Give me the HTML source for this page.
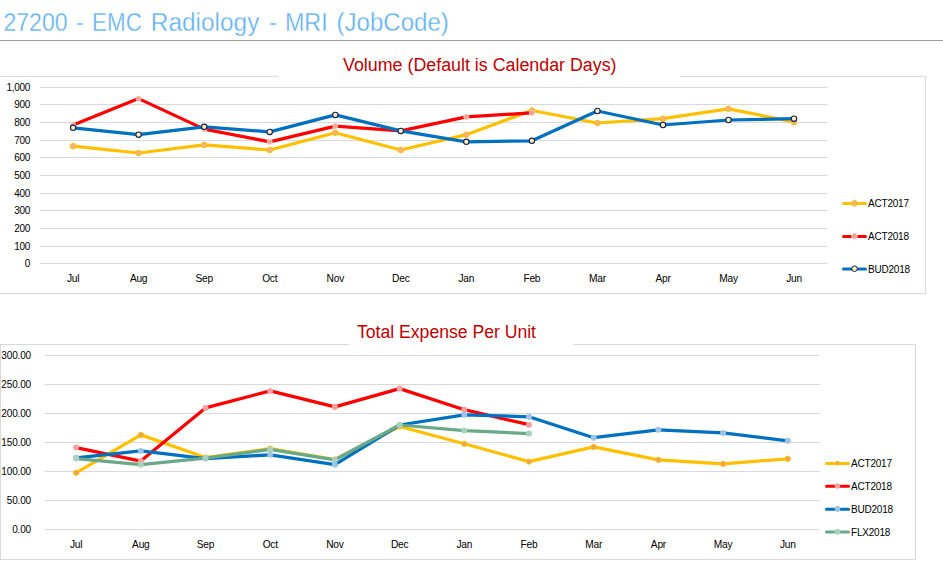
<!DOCTYPE html>
<html><head><meta charset="utf-8"><style>
html,body{margin:0;padding:0;background:#fff;}
body{width:943px;height:565px;overflow:hidden;position:relative;font-family:"Liberation Sans", sans-serif;}
#title{position:absolute;left:3px;top:5px;font-size:24.3px;color:#5aaaf2;white-space:nowrap;line-height:36px;}
svg{position:absolute;left:0;top:0;}
</style></head><body>
<svg width="943" height="565" viewBox="0 0 943 565" font-family='"Liberation Sans", sans-serif'>
<text x="3.39" y="31" font-size="25" fill="#5cb0f8" stroke="#fff" stroke-width="0.35" textLength="64.22" lengthAdjust="spacingAndGlyphs">27200</text>
<text x="75.98" y="31" font-size="25" fill="#5cb0f8" stroke="#fff" stroke-width="0.35" textLength="7.61" lengthAdjust="spacingAndGlyphs">-</text>
<text x="92.10" y="31" font-size="25" fill="#5cb0f8" stroke="#fff" stroke-width="0.35" textLength="49.72" lengthAdjust="spacingAndGlyphs">EMC</text>
<text x="150.76" y="31" font-size="25" fill="#5cb0f8" stroke="#fff" stroke-width="0.35" textLength="108.63" lengthAdjust="spacingAndGlyphs">Radiology</text>
<text x="269.13" y="31" font-size="25" fill="#5cb0f8" stroke="#fff" stroke-width="0.35" textLength="8.40" lengthAdjust="spacingAndGlyphs">-</text>
<text x="284.91" y="31" font-size="25" fill="#5cb0f8" stroke="#fff" stroke-width="0.35" textLength="42.74" lengthAdjust="spacingAndGlyphs">MRI</text>
<text x="336.56" y="31" font-size="25" fill="#5cb0f8" stroke="#fff" stroke-width="0.35" textLength="112.26" lengthAdjust="spacingAndGlyphs">(JobCode)</text>
<rect x="0" y="40" width="943" height="1" fill="#9f9f9f"/>
<!-- chart1 box -->
<rect x="0" y="76" width="925" height="1" fill="#d9d9d9"/>
<rect x="0" y="293" width="926" height="1" fill="#d9d9d9"/>
<rect x="925" y="76" width="1" height="218" fill="#d9d9d9"/>
<rect x="278" y="60" width="402" height="30" fill="#fff"/>
<text x="479.8" y="71" text-anchor="middle" font-size="17.6" fill="#c00000" textLength="273.5" lengthAdjust="spacingAndGlyphs">Volume (Default is Calendar Days)</text>
<rect x="40" y="263" width="787.5" height="1" fill="#d9d9d9"/>
<text x="30" y="266.9" text-anchor="end" font-size="10" letter-spacing="-0.3" fill="#000">0</text>
<rect x="40" y="246" width="787.5" height="1" fill="#d9d9d9"/>
<text x="30" y="249.9" text-anchor="end" font-size="10" letter-spacing="-0.3" fill="#000">100</text>
<rect x="40" y="228" width="787.5" height="1" fill="#d9d9d9"/>
<text x="30" y="231.9" text-anchor="end" font-size="10" letter-spacing="-0.3" fill="#000">200</text>
<rect x="40" y="210" width="787.5" height="1" fill="#d9d9d9"/>
<text x="30" y="213.9" text-anchor="end" font-size="10" letter-spacing="-0.3" fill="#000">300</text>
<rect x="40" y="193" width="787.5" height="1" fill="#d9d9d9"/>
<text x="30" y="196.9" text-anchor="end" font-size="10" letter-spacing="-0.3" fill="#000">400</text>
<rect x="40" y="175" width="787.5" height="1" fill="#d9d9d9"/>
<text x="30" y="178.9" text-anchor="end" font-size="10" letter-spacing="-0.3" fill="#000">500</text>
<rect x="40" y="157" width="787.5" height="1" fill="#d9d9d9"/>
<text x="30" y="160.9" text-anchor="end" font-size="10" letter-spacing="-0.3" fill="#000">600</text>
<rect x="40" y="140" width="787.5" height="1" fill="#d9d9d9"/>
<text x="30" y="143.9" text-anchor="end" font-size="10" letter-spacing="-0.3" fill="#000">700</text>
<rect x="40" y="122" width="787.5" height="1" fill="#d9d9d9"/>
<text x="30" y="125.9" text-anchor="end" font-size="10" letter-spacing="-0.3" fill="#000">800</text>
<rect x="40" y="104" width="787.5" height="1" fill="#d9d9d9"/>
<text x="30" y="107.9" text-anchor="end" font-size="10" letter-spacing="-0.3" fill="#000">900</text>
<rect x="40" y="87" width="787.5" height="1" fill="#d9d9d9"/>
<text x="30" y="90.9" text-anchor="end" font-size="10" letter-spacing="-0.3" fill="#000">1,000</text>
<text x="73.1" y="282" text-anchor="middle" font-size="10.2" letter-spacing="-0.25" fill="#000">Jul</text>
<text x="138.6" y="282" text-anchor="middle" font-size="10.2" letter-spacing="-0.25" fill="#000">Aug</text>
<text x="204.2" y="282" text-anchor="middle" font-size="10.2" letter-spacing="-0.25" fill="#000">Sep</text>
<text x="269.7" y="282" text-anchor="middle" font-size="10.2" letter-spacing="-0.25" fill="#000">Oct</text>
<text x="335.3" y="282" text-anchor="middle" font-size="10.2" letter-spacing="-0.25" fill="#000">Nov</text>
<text x="400.8" y="282" text-anchor="middle" font-size="10.2" letter-spacing="-0.25" fill="#000">Dec</text>
<text x="466.3" y="282" text-anchor="middle" font-size="10.2" letter-spacing="-0.25" fill="#000">Jan</text>
<text x="531.9" y="282" text-anchor="middle" font-size="10.2" letter-spacing="-0.25" fill="#000">Feb</text>
<text x="597.4" y="282" text-anchor="middle" font-size="10.2" letter-spacing="-0.25" fill="#000">Mar</text>
<text x="663.0" y="282" text-anchor="middle" font-size="10.2" letter-spacing="-0.25" fill="#000">Apr</text>
<text x="728.5" y="282" text-anchor="middle" font-size="10.2" letter-spacing="-0.25" fill="#000">May</text>
<text x="794.0" y="282" text-anchor="middle" font-size="10.2" letter-spacing="-0.25" fill="#000">Jun</text>
<polyline points="73.1,146.2 138.6,153 204.2,144.9 269.7,150 335.3,132.7 400.8,150 466.3,134.7 531.9,110.5 597.4,123 663.0,118.7 728.5,108.8 794.0,122" fill="none" stroke="#ffc000" stroke-width="3.25" stroke-linejoin="round" stroke-linecap="round"/><circle cx="73.1" cy="146.2" r="2.8" fill="#f4b183" stroke="#ffc000" stroke-width="1"/><circle cx="138.6" cy="153" r="2.8" fill="#f4b183" stroke="#ffc000" stroke-width="1"/><circle cx="204.2" cy="144.9" r="2.8" fill="#f4b183" stroke="#ffc000" stroke-width="1"/><circle cx="269.7" cy="150" r="2.8" fill="#f4b183" stroke="#ffc000" stroke-width="1"/><circle cx="335.3" cy="132.7" r="2.8" fill="#f4b183" stroke="#ffc000" stroke-width="1"/><circle cx="400.8" cy="150" r="2.8" fill="#f4b183" stroke="#ffc000" stroke-width="1"/><circle cx="466.3" cy="134.7" r="2.8" fill="#f4b183" stroke="#ffc000" stroke-width="1"/><circle cx="531.9" cy="110.5" r="2.8" fill="#f4b183" stroke="#ffc000" stroke-width="1"/><circle cx="597.4" cy="123" r="2.8" fill="#f4b183" stroke="#ffc000" stroke-width="1"/><circle cx="663.0" cy="118.7" r="2.8" fill="#f4b183" stroke="#ffc000" stroke-width="1"/><circle cx="728.5" cy="108.8" r="2.8" fill="#f4b183" stroke="#ffc000" stroke-width="1"/><circle cx="794.0" cy="122" r="2.8" fill="#f4b183" stroke="#ffc000" stroke-width="1"/>
<polyline points="73.1,125 138.6,98.6 204.2,129.1 269.7,141.8 335.3,126.1 400.8,130.9 466.3,116.9 531.9,112.8" fill="none" stroke="#ff0000" stroke-width="3.25" stroke-linejoin="round" stroke-linecap="round"/><circle cx="73.1" cy="125" r="2.6" fill="#f4a0a0" stroke="#f8cbad" stroke-width="0.8"/><circle cx="138.6" cy="98.6" r="2.6" fill="#f4a0a0" stroke="#f8cbad" stroke-width="0.8"/><circle cx="204.2" cy="129.1" r="2.6" fill="#f4a0a0" stroke="#f8cbad" stroke-width="0.8"/><circle cx="269.7" cy="141.8" r="2.6" fill="#f4a0a0" stroke="#f8cbad" stroke-width="0.8"/><circle cx="335.3" cy="126.1" r="2.6" fill="#f4a0a0" stroke="#f8cbad" stroke-width="0.8"/><circle cx="400.8" cy="130.9" r="2.6" fill="#f4a0a0" stroke="#f8cbad" stroke-width="0.8"/><circle cx="466.3" cy="116.9" r="2.6" fill="#f4a0a0" stroke="#f8cbad" stroke-width="0.8"/><circle cx="531.9" cy="112.8" r="2.6" fill="#f4a0a0" stroke="#f8cbad" stroke-width="0.8"/>
<polyline points="73.1,127.8 138.6,134.7 204.2,126.8 269.7,131.9 335.3,114.9 400.8,130.9 466.3,141.8 531.9,140.8 597.4,111 663.0,125 728.5,120 794.0,118.7" fill="none" stroke="#0070c0" stroke-width="3.25" stroke-linejoin="round" stroke-linecap="round"/><circle cx="73.1" cy="127.8" r="2.7" fill="#fff2a8" stroke="#0b1f63" stroke-width="1.1"/><circle cx="138.6" cy="134.7" r="2.7" fill="#fff2a8" stroke="#0b1f63" stroke-width="1.1"/><circle cx="204.2" cy="126.8" r="2.7" fill="#fff2a8" stroke="#0b1f63" stroke-width="1.1"/><circle cx="269.7" cy="131.9" r="2.7" fill="#fff2a8" stroke="#0b1f63" stroke-width="1.1"/><circle cx="335.3" cy="114.9" r="2.7" fill="#fff2a8" stroke="#0b1f63" stroke-width="1.1"/><circle cx="400.8" cy="130.9" r="2.7" fill="#fff2a8" stroke="#0b1f63" stroke-width="1.1"/><circle cx="466.3" cy="141.8" r="2.7" fill="#fff2a8" stroke="#0b1f63" stroke-width="1.1"/><circle cx="531.9" cy="140.8" r="2.7" fill="#fff2a8" stroke="#0b1f63" stroke-width="1.1"/><circle cx="597.4" cy="111" r="2.7" fill="#fff2a8" stroke="#0b1f63" stroke-width="1.1"/><circle cx="663.0" cy="125" r="2.7" fill="#fff2a8" stroke="#0b1f63" stroke-width="1.1"/><circle cx="728.5" cy="120" r="2.7" fill="#fff2a8" stroke="#0b1f63" stroke-width="1.1"/><circle cx="794.0" cy="118.7" r="2.7" fill="#fff2a8" stroke="#0b1f63" stroke-width="1.1"/>
<line x1="843.5" y1="203.5" x2="865.5" y2="203.5" stroke="#ffc000" stroke-width="3" stroke-linecap="round"/>
<circle cx="854.5" cy="203.2" r="2.8" fill="#f4b183" stroke="#ffc000" stroke-width="1"/>
<text x="868" y="207.1" font-size="10" letter-spacing="-0.2" fill="#000">ACT2017</text>
<line x1="843.5" y1="236.5" x2="865.5" y2="236.5" stroke="#ff0000" stroke-width="3" stroke-linecap="round"/>
<circle cx="854.5" cy="236.2" r="2.8" fill="#f4a0a0" stroke="#f8cbad" stroke-width="1"/>
<text x="868" y="240.1" font-size="10" letter-spacing="-0.2" fill="#000">ACT2018</text>
<line x1="843.5" y1="269" x2="865.5" y2="269" stroke="#0070c0" stroke-width="3" stroke-linecap="round"/>
<circle cx="854.5" cy="268.7" r="2.8" fill="#fff2a8" stroke="#0b1f63" stroke-width="1"/>
<text x="868" y="272.6" font-size="10" letter-spacing="-0.2" fill="#000">BUD2018</text>
<!-- chart2 box -->
<rect x="0" y="344" width="916" height="1" fill="#d9d9d9"/>
<rect x="0" y="559" width="916" height="1" fill="#d9d9d9"/>
<rect x="0" y="344" width="1" height="216" fill="#d9d9d9"/>
<rect x="915" y="344" width="1" height="216" fill="#d9d9d9"/>
<rect x="349" y="325" width="224" height="20" fill="#fff"/>
<text x="446.5" y="338" text-anchor="middle" font-size="17.6" fill="#c00000">Total Expense Per Unit</text>
<rect x="44.5" y="529" width="775.5" height="1" fill="#d9d9d9"/>
<text x="31" y="533.1" text-anchor="end" font-size="10" letter-spacing="-0.15" fill="#000">0.00</text>
<rect x="44.5" y="500" width="775.5" height="1" fill="#d9d9d9"/>
<text x="31" y="504.1" text-anchor="end" font-size="10" letter-spacing="-0.15" fill="#000">50.00</text>
<rect x="44.5" y="471" width="775.5" height="1" fill="#d9d9d9"/>
<text x="31" y="475.1" text-anchor="end" font-size="10" letter-spacing="-0.15" fill="#000">100.00</text>
<rect x="44.5" y="442" width="775.5" height="1" fill="#d9d9d9"/>
<text x="31" y="446.1" text-anchor="end" font-size="10" letter-spacing="-0.15" fill="#000">150.00</text>
<rect x="44.5" y="413" width="775.5" height="1" fill="#d9d9d9"/>
<text x="31" y="417.1" text-anchor="end" font-size="10" letter-spacing="-0.15" fill="#000">200.00</text>
<rect x="44.5" y="384" width="775.5" height="1" fill="#d9d9d9"/>
<text x="31" y="388.1" text-anchor="end" font-size="10" letter-spacing="-0.15" fill="#000">250.00</text>
<rect x="44.5" y="355" width="775.5" height="1" fill="#d9d9d9"/>
<text x="31" y="359.1" text-anchor="end" font-size="10" letter-spacing="-0.15" fill="#000">300.00</text>
<text x="76.1" y="548" text-anchor="middle" font-size="10.2" letter-spacing="-0.25" fill="#000">Jul</text>
<text x="140.8" y="548" text-anchor="middle" font-size="10.2" letter-spacing="-0.25" fill="#000">Aug</text>
<text x="205.5" y="548" text-anchor="middle" font-size="10.2" letter-spacing="-0.25" fill="#000">Sep</text>
<text x="270.2" y="548" text-anchor="middle" font-size="10.2" letter-spacing="-0.25" fill="#000">Oct</text>
<text x="334.9" y="548" text-anchor="middle" font-size="10.2" letter-spacing="-0.25" fill="#000">Nov</text>
<text x="399.6" y="548" text-anchor="middle" font-size="10.2" letter-spacing="-0.25" fill="#000">Dec</text>
<text x="464.3" y="548" text-anchor="middle" font-size="10.2" letter-spacing="-0.25" fill="#000">Jan</text>
<text x="529.0" y="548" text-anchor="middle" font-size="10.2" letter-spacing="-0.25" fill="#000">Feb</text>
<text x="593.7" y="548" text-anchor="middle" font-size="10.2" letter-spacing="-0.25" fill="#000">Mar</text>
<text x="658.4" y="548" text-anchor="middle" font-size="10.2" letter-spacing="-0.25" fill="#000">Apr</text>
<text x="723.1" y="548" text-anchor="middle" font-size="10.2" letter-spacing="-0.25" fill="#000">May</text>
<text x="787.8" y="548" text-anchor="middle" font-size="10.2" letter-spacing="-0.25" fill="#000">Jun</text>
<polyline points="76.1,472.8 140.8,434.9 205.5,457.5 270.2,448.6 334.9,459.5 399.6,426.5 464.3,443.8 529.0,461.6 593.7,446.9 658.4,459.8 723.1,463.9 787.8,458.8" fill="none" stroke="#ffc000" stroke-width="3.25" stroke-linejoin="round" stroke-linecap="round"/><circle cx="76.1" cy="472.8" r="2.6" fill="#eda35a" stroke="#ffc000" stroke-width="1"/><circle cx="140.8" cy="434.9" r="2.6" fill="#eda35a" stroke="#ffc000" stroke-width="1"/><circle cx="205.5" cy="457.5" r="2.6" fill="#eda35a" stroke="#ffc000" stroke-width="1"/><circle cx="270.2" cy="448.6" r="2.6" fill="#eda35a" stroke="#ffc000" stroke-width="1"/><circle cx="334.9" cy="459.5" r="2.6" fill="#eda35a" stroke="#ffc000" stroke-width="1"/><circle cx="399.6" cy="426.5" r="2.6" fill="#eda35a" stroke="#ffc000" stroke-width="1"/><circle cx="464.3" cy="443.8" r="2.6" fill="#eda35a" stroke="#ffc000" stroke-width="1"/><circle cx="529.0" cy="461.6" r="2.6" fill="#eda35a" stroke="#ffc000" stroke-width="1"/><circle cx="593.7" cy="446.9" r="2.6" fill="#eda35a" stroke="#ffc000" stroke-width="1"/><circle cx="658.4" cy="459.8" r="2.6" fill="#eda35a" stroke="#ffc000" stroke-width="1"/><circle cx="723.1" cy="463.9" r="2.6" fill="#eda35a" stroke="#ffc000" stroke-width="1"/><circle cx="787.8" cy="458.8" r="2.6" fill="#eda35a" stroke="#ffc000" stroke-width="1"/>
<polyline points="76.1,447.6 140.8,461.1 205.5,407.9 270.2,390.9 334.9,406.9 399.6,388.6 464.3,409.7 529.0,424.7" fill="none" stroke="#ff0000" stroke-width="3.25" stroke-linejoin="round" stroke-linecap="round"/><circle cx="76.1" cy="447.6" r="3" fill="#f4a0a0" stroke="none" stroke-width="0"/><circle cx="140.8" cy="461.1" r="3" fill="#f4a0a0" stroke="none" stroke-width="0"/><circle cx="205.5" cy="407.9" r="3" fill="#f4a0a0" stroke="none" stroke-width="0"/><circle cx="270.2" cy="390.9" r="3" fill="#f4a0a0" stroke="none" stroke-width="0"/><circle cx="334.9" cy="406.9" r="3" fill="#f4a0a0" stroke="none" stroke-width="0"/><circle cx="399.6" cy="388.6" r="3" fill="#f4a0a0" stroke="none" stroke-width="0"/><circle cx="464.3" cy="409.7" r="3" fill="#f4a0a0" stroke="none" stroke-width="0"/><circle cx="529.0" cy="424.7" r="3" fill="#f4a0a0" stroke="none" stroke-width="0"/>
<polyline points="76.1,457.8 140.8,450.9 205.5,458.6 270.2,454.8 334.9,464.7 399.6,425 464.3,414.8 529.0,416.8 593.7,437.7 658.4,429.8 723.1,432.9 787.8,440.8" fill="none" stroke="#0070c0" stroke-width="3.25" stroke-linejoin="round" stroke-linecap="round"/><circle cx="76.1" cy="457.8" r="3" fill="#9dc3e6" stroke="none" stroke-width="0"/><circle cx="140.8" cy="450.9" r="3" fill="#9dc3e6" stroke="none" stroke-width="0"/><circle cx="205.5" cy="458.6" r="3" fill="#9dc3e6" stroke="none" stroke-width="0"/><circle cx="270.2" cy="454.8" r="3" fill="#9dc3e6" stroke="none" stroke-width="0"/><circle cx="334.9" cy="464.7" r="3" fill="#9dc3e6" stroke="none" stroke-width="0"/><circle cx="399.6" cy="425" r="3" fill="#9dc3e6" stroke="none" stroke-width="0"/><circle cx="464.3" cy="414.8" r="3" fill="#9dc3e6" stroke="none" stroke-width="0"/><circle cx="529.0" cy="416.8" r="3" fill="#9dc3e6" stroke="none" stroke-width="0"/><circle cx="593.7" cy="437.7" r="3" fill="#9dc3e6" stroke="none" stroke-width="0"/><circle cx="658.4" cy="429.8" r="3" fill="#9dc3e6" stroke="none" stroke-width="0"/><circle cx="723.1" cy="432.9" r="3" fill="#9dc3e6" stroke="none" stroke-width="0"/><circle cx="787.8" cy="440.8" r="3" fill="#9dc3e6" stroke="none" stroke-width="0"/>
<polyline points="76.1,458.6 140.8,464.7 205.5,458.1 270.2,449.4 334.9,459.8 399.6,425 464.3,430.6 529.0,433.6" fill="none" stroke="#6aa88a" stroke-width="3.25" stroke-linejoin="round" stroke-linecap="round"/><circle cx="76.1" cy="458.6" r="3" fill="#a9d1c0" stroke="none" stroke-width="0"/><circle cx="140.8" cy="464.7" r="3" fill="#a9d1c0" stroke="none" stroke-width="0"/><circle cx="205.5" cy="458.1" r="3" fill="#a9d1c0" stroke="none" stroke-width="0"/><circle cx="270.2" cy="449.4" r="3" fill="#a9d1c0" stroke="none" stroke-width="0"/><circle cx="334.9" cy="459.8" r="3" fill="#a9d1c0" stroke="none" stroke-width="0"/><circle cx="399.6" cy="425" r="3" fill="#a9d1c0" stroke="none" stroke-width="0"/><circle cx="464.3" cy="430.6" r="3" fill="#a9d1c0" stroke="none" stroke-width="0"/><circle cx="529.0" cy="433.6" r="3" fill="#a9d1c0" stroke="none" stroke-width="0"/>
<line x1="826.5" y1="463.5" x2="848.5" y2="463.5" stroke="#ffc000" stroke-width="3" stroke-linecap="round"/>
<circle cx="837.5" cy="463.2" r="2" fill="#eda35a" stroke="#ffc000" stroke-width="0.8"/>
<text x="851" y="467.1" font-size="10" letter-spacing="-0.2" fill="#000">ACT2017</text>
<line x1="826.5" y1="486.3" x2="848.5" y2="486.3" stroke="#ff0000" stroke-width="3" stroke-linecap="round"/>
<circle cx="837.5" cy="486.0" r="2.8" fill="#f4a0a0"/>
<text x="851" y="489.90000000000003" font-size="10" letter-spacing="-0.2" fill="#000">ACT2018</text>
<line x1="826.5" y1="509.2" x2="848.5" y2="509.2" stroke="#0070c0" stroke-width="3" stroke-linecap="round"/>
<circle cx="837.5" cy="508.9" r="2.8" fill="#9dc3e6"/>
<text x="851" y="512.8" font-size="10" letter-spacing="-0.2" fill="#000">BUD2018</text>
<line x1="826.5" y1="532.1" x2="848.5" y2="532.1" stroke="#6aa88a" stroke-width="3" stroke-linecap="round"/>
<circle cx="837.5" cy="531.8000000000001" r="2.8" fill="#a9d1c0"/>
<text x="851" y="535.7" font-size="10" letter-spacing="-0.2" fill="#000">FLX2018</text>
</svg>
</body></html>
